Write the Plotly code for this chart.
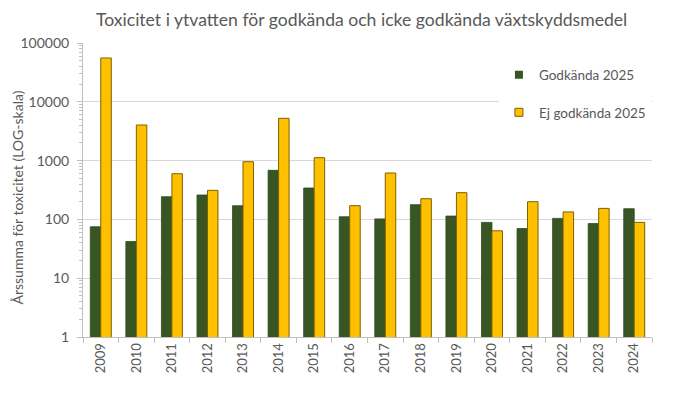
import plotly.graph_objects as go

years = ["2009", "2010", "2011", "2012", "2013", "2014", "2015", "2016",
         "2017", "2018", "2019", "2020", "2021", "2022", "2023", "2024"]
godkanda = [75, 42, 243, 260, 171, 684, 342, 111, 102, 178, 114, 89, 70, 104, 85, 152]
ej_godkanda = [55600, 4030, 598, 312, 958, 5240, 1120, 171, 615, 225, 285, 64, 200, 134, 154, 89]

FONT = "Lato"
GRAY = "#595959"
GREEN = "#375623"
YELLOW = "#FFC000"
YEDGE = "#7F6000"

fig = go.Figure()
fig.add_trace(go.Bar(
    x=years, y=godkanda, name="Godkända 2025", showlegend=False,
    marker=dict(color=GREEN, line=dict(color="#2f4a1e", width=0.8)),
))
fig.add_trace(go.Bar(
    x=years, y=ej_godkanda, name="Ej godkända 2025", showlegend=False,
    marker=dict(color=YELLOW, line=dict(color=YEDGE, width=1)),
))
# legend entries with small square symbols
fig.add_trace(go.Scatter(x=[None], y=[None], mode="markers", name="Godkända 2025",
                         marker=dict(symbol="square", size=8, color=GREEN),
                         legendgroup="a"))
fig.add_trace(go.Scatter(x=[None], y=[None], mode="markers", name="Ej godkända 2025",
                         marker=dict(symbol="square", size=8, color=YELLOW,
                                     line=dict(color=YEDGE, width=1)),
                         legendgroup="b"))

fig.update_layout(
    width=680, height=394,
    margin=dict(l=75, r=36, t=35, b=65, autoexpand=False),
    paper_bgcolor="white", plot_bgcolor="white",
    barmode="group", bargap=0.41, bargroupgap=0,
    font=dict(family=FONT, color=GRAY, size=12),
    title=dict(text="Toxicitet i ytvatten för godkända och icke godkända växtskyddsmedel",
               x=0.52, xanchor="center", y=0.97, yanchor="middle",
               font=dict(family=FONT, size=17.6, color=GRAY)),
    legend=dict(x=0.731, y=0.944, xanchor="left", yanchor="top",
                font=dict(size=13.5, color=GRAY, family=FONT), bgcolor="white",
                traceorder="grouped", tracegroupgap=17, itemwidth=30),
    showlegend=True,
    annotations=[dict(text="Årssumma för toxicitet (LOG-skala)", textangle=-90,
                      xref="paper", yref="paper", x=-0.115, y=0.473,
                      xanchor="center", yanchor="middle", showarrow=False,
                      font=dict(size=14, color=GRAY, family=FONT))],
)
fig.update_xaxes(
    type="category", tickangle=-90, tickson="boundaries",
    ticks="outside", ticklen=5, tickcolor="#bfbfbf",
    showline=True, linecolor="#bfbfbf", linewidth=1,
    tickfont=dict(size=13, color=GRAY, family=FONT), showgrid=False, automargin=False,
)
fig.update_yaxes(
    type="log", range=[0, 5],
    tickvals=[1, 10, 100, 1000, 10000, 100000],
    ticktext=["1", "10", "100", "1000", "10000", "100000"],
    showgrid=True, gridcolor="#d9d9d9", gridwidth=1,
    showline=True, linecolor="#bfbfbf", linewidth=1,
    ticks="outside", ticklen=5, tickcolor="#bfbfbf", ticklabelstandoff=5,
    minor=dict(ticks="outside", ticklen=3, tickcolor="#bfbfbf", showgrid=False,
               tickvals=[m * 10 ** e for e in range(0, 5) for m in range(2, 10)]),
    tickfont=dict(size=14, color=GRAY, family=FONT),
    zeroline=False, automargin=False,
)

fig.write_html("out.html")
